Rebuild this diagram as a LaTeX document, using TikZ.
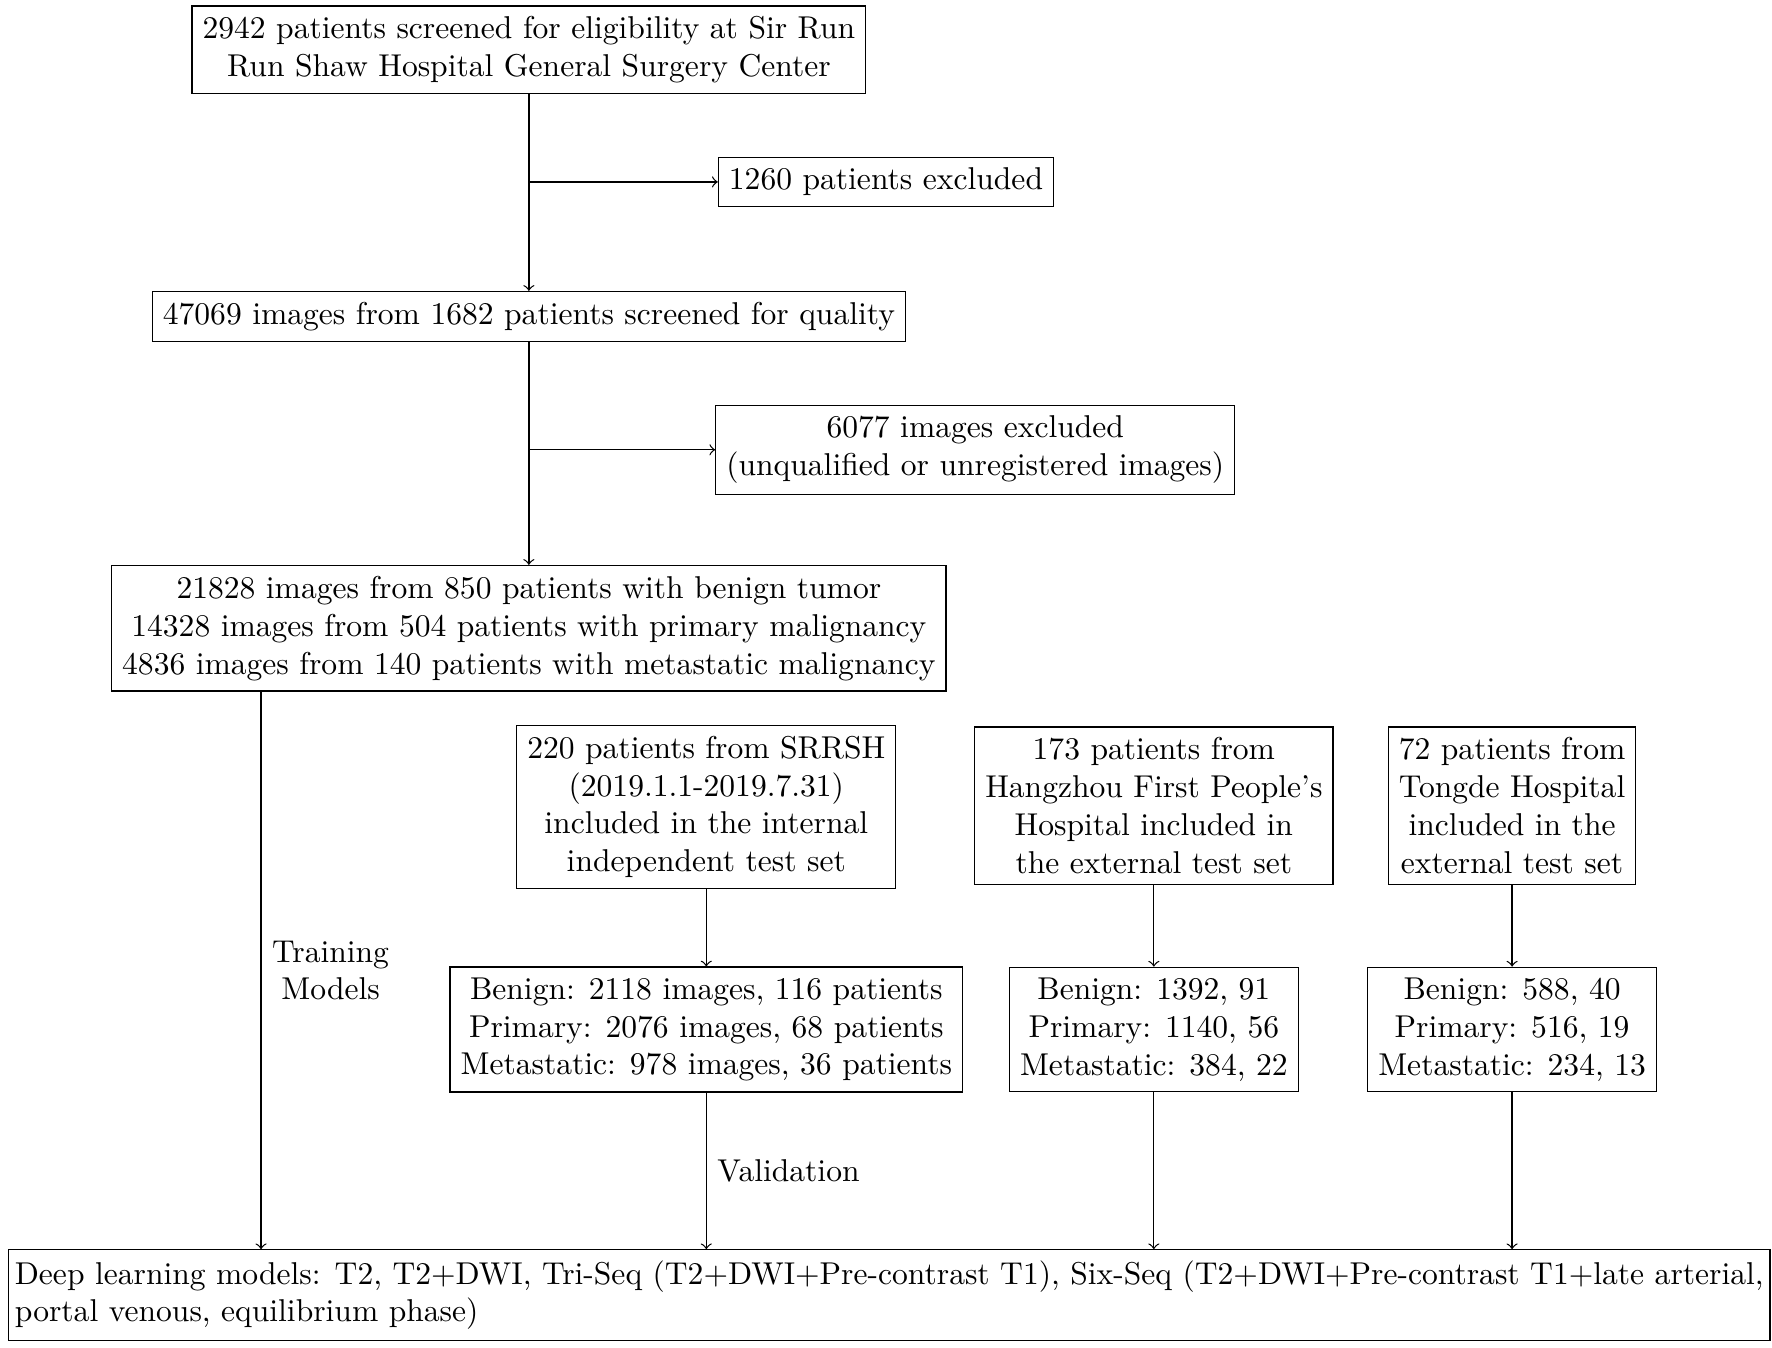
\documentclass[tikz,border=0pt]{standalone}
\begin{document}
\begin{tikzpicture}[x=0.358pt, y=-0.358pt, auto, box/.style={draw, align=center}]
  \useasboundingbox (0,0) rectangle (1568,1192);
  \node[box] (screen) at (468, 44) {2942 patients screened for eligibility at Sir Run\\Run Shaw Hospital General Surgery Center};
  \node[box] (excl1) at (784, 161) {1260 patients excluded};
  \node[box] (quality) at (468, 280) {47069 images from 1682 patients screened for quality};
  \node[box] (excl2) at (863, 398) {6077 images excluded\\(unqualified or unregistered images)};
  \node[box] (cohort) at (468, 556) {21828 images from 850 patients with benign tumor\\14328 images from 504 patients with primary malignancy\\4836 images from 140 patients with metastatic malignancy};
  \node[box] (internal) at (625, 714) {220 patients from SRRSH\\(2019.1.1-2019.7.31)\\included in the internal\\independent test set};
  \node[box] (hangzhou) at (1021, 713) {173 patients from\\Hangzhou First People's\\Hospital included in\\the external test set};
  \node[box] (tongde) at (1338, 713) {72 patients from\\Tongde Hospital\\included in the\\external test set};
  \node[box] (intdata) at (625, 911) {Benign: 2118 images, 116 patients\\Primary: 2076 images, 68 patients\\Metastatic: 978 images, 36 patients};
  \node[box] (hzdata) at (1021, 911) {Benign: 1392, 91\\Primary: 1140, 56\\Metastatic: 384, 22};
  \node[box] (tddata) at (1338, 911) {Benign: 588, 40\\Primary: 516, 19\\Metastatic: 234, 13};
  \node[draw, align=left, anchor=west, inner xsep=2pt] (models) at (7, 1146) {Deep learning models: T2, T2+DWI, Tri-Seq (T2+DWI+Pre-contrast T1), Six-Seq (T2+DWI+Pre-contrast T1+late arterial,\\portal venous, equilibrium phase)};

  \coordinate (b1) at (screen |- excl1);
  \coordinate (b2) at (quality |- excl2);
  \coordinate (trx) at (231, 0);
  \coordinate (trtop) at (cohort.south -| trx);
  \draw[->] (screen) -- (quality);
  \draw[->] (b1) -- (excl1);
  \draw[->] (quality) -- (cohort);
  \draw[->] (b2) -- (excl2);
  \draw[->] (trtop) -- (trtop |- models.north) node[midway, right, align=center] {Training\\Models};
  \draw[->] (internal) -- (intdata);
  \draw[->] (hangzhou) -- (hzdata);
  \draw[->] (tongde) -- (tddata);
  \draw[->] (intdata) -- (intdata |- models.north) node[midway, right] {Validation};
  \draw[->] (hzdata) -- (hzdata |- models.north);
  \draw[->] (tddata) -- (tddata |- models.north);
\end{tikzpicture}
\end{document}
